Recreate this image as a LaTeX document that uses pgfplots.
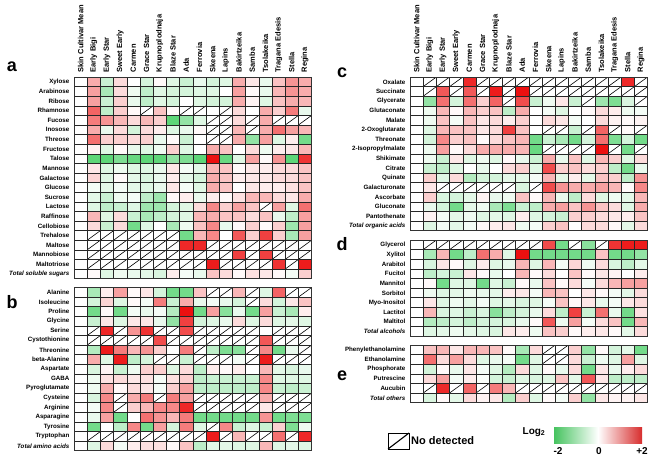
\documentclass[border=0pt]{standalone}
\usepackage{fontspec}
\setmainfont{Liberation Sans}
\usepackage{pgfplots}
\usepackage{pgfplotstable}
\pgfplotsset{compat=1.18}

\pgfplotsset{colormap={gwr}{rgb255(0)=(40,200,75) rgb255(1)=(255,255,255) rgb255(2)=(236,16,16)}}
\definecolor{cbgreen}{RGB}{70,195,95}
\definecolor{cbred}{RGB}{215,45,45}

\pgfdeclareplotmark{cell}{\pgfpathrectangle{\pgfpoint{-6.7pt}{-4.9pt}}{\pgfpoint{13.4pt}{9.8pt}}\pgfusepathqfill}
\pgfdeclareplotmark{nd}{\pgfpathmoveto{\pgfpoint{-6.6pt}{-4.8pt}}\pgfpathlineto{\pgfpoint{6.6pt}{4.8pt}}\pgfusepathqstroke}

% 9 = not detected
\pgfplotstableread{
c0 c1 c2 c3 c4 c5 c6 c7 c8 c9 c10 c11 c12 c13 c14 c15 c16 c17
0 0.7 -0.5 0.3 0 -0.4 0.05 -0.3 -0.5 -0.2 -0.4 -0.3 0.7 0.2 -0.2 0.5 0.9 0.7
0 0.8 -0.8 0.3 -0.15 -0.6 -0.3 -0.4 -0.4 -0.3 -0.3 0 0.8 0.05 -0.2 0.6 0.9 0.7
0 0.8 -0.5 0.4 -0.2 -0.6 -0.3 -0.4 0 -0.3 -0.4 -0.4 0.7 0.1 -0.3 0.5 0.7 0.6
0 1.3 -0.6 0.4 0.05 9 0.5 0.05 9 9 0 9 0.3 0 0.7 0.4 1.1 -0.2
0 1.1 0.9 0.6 0.3 0.6 0.4 -1.5 -1.0 -0.3 9 9 0.3 9 0.7 9 9 9
0 0.7 -0.2 0.3 -0.4 0.3 0.15 -0.3 -0.2 0.05 9 9 0.6 9 0.7 1.2 0.8 0.6
0 1.2 0.4 0.4 0.3 0.4 -0.2 0.05 -0.5 0 9 9 0.7 -1.0 0.8 -0.3 0.15 -1.3
0 0.1 -0.3 0.05 -0.2 -0.3 -0.15 0.4 -0.3 0 0.7 0.5 0 0.3 -0.15 0.15 0.2 0.6
0 -1.5 -1.5 -1.2 -1.4 -1.5 -1.5 -1.0 -1.2 -1.5 2 -1.4 -0.3 0.8 0.05 0.9 -1.5 1.7
0 0.2 -0.3 -0.15 -0.3 -0.3 -0.2 0.2 -0.1 -0.25 0.6 0.5 0.05 0.2 0.15 0.3 0.3 0.5
0 0.35 -0.3 0.05 -0.25 -0.35 -0.2 0.15 -0.25 -0.4 0.7 0.5 0.15 0.2 0.2 0.3 0.3 0.5
0 -0.1 -0.25 -0.1 -0.25 -0.3 -0.2 0.2 -0.1 -0.3 0.7 0.5 0 0.2 0.15 0.15 0.25 0.5
0 -0.25 -0.5 -0.15 -0.1 -0.6 -0.9 0.05 0.15 -0.2 0.15 0.05 0.25 0.6 0.6 0.3 0.2 0.7
0 -0.3 -0.6 -0.5 -0.3 -0.9 -0.9 -0.4 -0.3 0.3 1.0 0.4 0.8 0.5 9 0.8 -0.3 1.2
0 0.6 -0.3 0.3 -0.5 -0.8 -0.6 -0.4 -0.3 0.6 0.7 0.5 0.5 0.3 0.5 -0.2 -0.6 0.8
0 0.3 -0.5 0.3 -1.3 -0.3 0 -0.8 -0.15 0.5 1.0 -0.2 0.05 0.4 0.05 0.4 -0.9 0.8
0 9 9 9 9 9 9 9 -1.3 0.6 1.0 0 1.4 0.4 1.6 0.4 -0.8 0.8
0 9 9 9 9 9 9 9 1.8 1.8 9 9 9 9 9 9 9 9
0 9 9 9 9 9 9 9 9 9 9 9 1.6 9 1.6 9 9 9
0 9 9 9 9 9 9 9 9 9 1.9 9 9 9 9 1.7 9 1.9
0 0.05 -0.3 -0.15 -0.2 -0.25 -0.35 0.15 -0.1 -0.2 0.5 0.3 0.05 0.25 0.2 0.05 -0.1 0.4
}\tblA

\pgfplotstableread{
c0 c1 c2 c3 c4 c5 c6 c7 c8 c9 c10 c11 c12 c13 c14 c15 c16 c17
0 -0.8 0.15 0.8 0.05 0.2 -0.4 -1.3 -1.3 0.5 9 9 0.6 9 -0.3 1.3 9 9
0 -0.4 0.35 -0.3 0.05 -0.1 1.1 -0.5 0.7 -0.2 -0.1 -0.2 -0.4 9 0.3 -0.4 0.2 0.5
0 -1.3 0.05 -1.3 -0.1 -0.2 -0.1 -0.7 2 -1.3 0.8 -1.1 -0.2 -1.3 0.8 -0.5 -0.8 0.15
0 -0.5 0.2 -0.3 0.2 0.2 -0.2 -1.0 1.6 -0.4 -0.3 -0.2 0.3 -0.3 0.3 -0.3 -0.25 -0.3
0 9 1.8 9 0.9 1.7 9 9 1.5 9 9 9 9 9 0 9 9 9
0 9 9 9 9 9 1.5 9 9 9 9 9 9 9 1.4 9 9 9
0 -0.7 1.9 1.1 0.6 0.9 0.4 0 1.1 9 -0.6 -1.2 -1.1 9 1.0 -1.3 -0.2 9
0 0.7 -0.3 1.9 -0.6 -0.4 9 9 -0.5 9 9 9 -0.1 9 1.9 9 9 9
0 -0.35 0.1 -0.5 -0.15 0.4 0.4 -0.3 0.3 -0.6 0.15 0.05 0.15 0 0.6 -0.25 -0.35 -0.2
0 -0.15 0.25 0.3 0.2 0.25 -0.1 0.25 0.4 -0.6 -0.5 -0.5 -0.5 -0.5 1.0 -0.3 -0.3 -0.3
0 -0.15 0.7 0.05 0.3 0.2 -0.1 0.4 0.8 -0.6 -0.6 -0.6 -0.6 -0.6 1.0 -0.5 -0.6 -0.5
0 -0.35 1.0 9 0.7 1.1 9 1.1 0.8 9 9 9 9 9 0.7 9 9 9
0 -0.1 1.0 9 0.4 0.6 1.0 1.0 1.8 9 9 9 9 9 0.2 9 9 9
0 -0.2 0.8 -1.3 0 1.2 0.9 0.6 1.1 -1.3 -1.3 -1.3 -1.3 -1.3 0.9 -1.3 -1.2 -1.2
0 -1.3 0 -0.6 1.0 -1.3 0.8 -0.4 1.1 -0.3 9 1.0 -0.5 -0.3 -0.5 0.4 -1.2 -0.15
0 9 9 9 9 9 9 9 9 9 1.9 9 0.6 9 9 1.2 9 1.8
0 -0.3 0.3 -0.1 0.15 0.25 0.25 0.05 0.5 -0.6 -0.25 -0.25 -0.3 -0.3 0.6 -0.3 -0.25 -0.3
}\tblB

\pgfplotstableread{
c0 c1 c2 c3 c4 c5 c6 c7 c8 c9 c10 c11 c12 c13 c14 c15 c16 c17
0 9 9 9 1.8 9 9 9 9 9 9 9 9 9 9 9 1.8 9
0 9 1.4 9 1.4 9 1.9 9 2 9 9 9 9 9 9 9 9 9
0 -1.0 1.2 -0.4 1.2 0.4 1.3 9 1.5 -0.5 -0.15 0.2 -0.5 9 -0.9 -1.2 -0.35 9
0 -0.15 0.6 0.05 0.6 0.4 0.5 -0.6 0.7 0 -0.1 -0.3 0 0.05 0.3 0.15 -0.15 -0.1
0 -0.15 0.5 -0.1 0.5 0.2 0.3 0.15 0.4 0 0.3 0.2 -0.1 0 0.3 0.1 0.05 0.1
0 -0.3 0.6 0.5 0.5 0.2 0.3 1.6 0.5 0 9 9 -0.5 9 1.3 9 0.05 9
0 -0.4 1.0 0.4 0.5 0.05 0.3 0.5 0.6 -1.3 -0.5 -0.8 -1.3 -0.4 1.2 -1.2 -0.4 -1.3
0 -0.15 0.8 0.05 0.3 0.7 0.7 0.7 0.6 -1.4 9 9 9 9 2 9 -1.3 9
0 -0.15 -0.5 0.2 -0.3 -0.15 -0.3 0.05 -0.2 -0.5 0.7 -0.2 0.5 -0.3 0.6 0.4 -0.3 0.3
0 -0.5 -0.6 -0.3 0 -0.2 0 0.3 0.4 -0.3 1.5 0.4 0.5 0.3 0.4 -0.6 -1.3 -0.2
0 0.4 -0.3 0.3 -0.7 -0.4 -0.4 -0.25 -0.25 -0.1 0.6 -0.25 0.15 -0.25 0.5 0.4 -0.6 0.9
0 0.2 9 9 9 9 9 9 -0.35 9 1.5 0.9 0.7 0.7 0.8 0.6 0.05 1.0
0 0.4 -0.35 -0.4 -0.25 0.1 -0.2 -0.15 0.5 0.05 0.6 -0.2 -0.6 0.3 -0.3 -0.15 -0.25 0.6
0 -0.2 -0.4 -1.3 -0.25 -0.15 -0.8 -1.2 -0.5 -0.6 0.7 0.8 0.5 0.9 0.5 0.3 -0.3 0.7
0 0.1 -0.1 -0.25 -0.15 -0.3 -0.25 -0.3 0.15 -0.3 -0.4 -0.5 0.4 0.4 0.3 0.2 0.15 0.5
0 -0.3 -0.1 -0.25 -0.1 0.05 0.15 0.2 -0.15 -0.1 0.4 0.5 0 0.3 0.3 0.05 -0.25 0.3
}\tblC

\pgfplotstableread{
c0 c1 c2 c3 c4 c5 c6 c7 c8 c9 c10 c11 c12 c13 c14 c15 c16 c17
0 9 9 9 9 9 9 9 9 9 1.5 -1.3 9 -1.1 9 1.7 1.9 1.9
0 -0.8 0.6 -1.3 -0.6 1.2 0.7 -0.3 2 -1.3 -1.3 -1.3 -1.3 -1.3 0.5 -1.3 -1.3 -1.0
0 -0.35 0.2 0.05 -0.3 0.15 -0.3 -0.2 0.6 -0.3 0.6 -0.1 0.35 -0.15 0.3 -0.35 -0.6 -0.25
0 -0.6 -0.4 -0.5 0.2 0.05 -0.2 0 0.6 0.05 0.3 0 0.5 0.05 0.2 0.1 0 0.15
0 0.05 -1.3 -0.3 -0.3 -1.3 -0.3 -0.5 0.05 -0.2 0.5 0.05 0.3 -0.1 0.3 0.6 0.8 0.8
0 -0.15 -0.3 -0.25 -0.15 -0.2 -0.25 0.15 0.2 -0.1 0.6 0.5 0 0.2 0.05 -0.1 -0.25 0.3
0 0.2 -0.3 -0.15 -0.25 -0.1 -0.3 -0.25 -0.35 -0.3 -0.1 0.5 0.05 0.2 -0.2 -0.1 0.2 0.3
0 0.6 -0.35 -0.3 -0.5 -0.35 -1.1 -0.6 -0.4 -0.2 0.3 -0.6 1.6 -0.5 1.2 -0.2 -1.3 0.25
0 -0.7 -0.6 -0.4 -0.6 -0.4 -0.4 -0.35 -0.2 0.05 1.4 -0.15 0.8 -0.1 0.3 0.5 -1.3 0.6
0 -0.3 -0.25 -0.15 -0.25 -0.3 -0.35 0.2 0.15 -0.15 0.5 0.4 0.05 0.15 0.2 0.05 -0.25 0.3
}\tblD

\pgfplotstableread{
c0 c1 c2 c3 c4 c5 c6 c7 c8 c9 c10 c11 c12 c13 c14 c15 c16 c17
0 0.5 0.6 0.2 0.6 0.6 0.5 0.05 -0.8 0.3 9 9 0.4 -1.0 0.05 -0.4 -0.25 -1.3
0 1.2 0.3 0.8 0.3 -0.3 -0.2 -0.1 -1.3 -0.3 9 9 0.3 -0.5 -0.15 -0.3 0.8 -0.3
0 -0.4 0.05 -0.2 0.2 -0.1 -0.3 -0.7 0.3 -0.3 0.05 -0.2 0.3 -1.3 0.2 -0.2 0.15 0.3
0 0.3 0.8 -0.1 0.15 -0.05 -0.4 -0.5 -0.3 -0.35 -0.3 0.5 -0.25 1.4 0.2 -0.6 -0.6 -0.6
0 9 1.8 9 1.3 9 1.1 0.6 9 9 9 9 9 9 9 9 9 9
0 -0.35 0.05 -0.25 0.3 0.1 0.2 -0.7 0.4 -0.3 0.05 -0.1 0.4 -1.0 0.2 0.1 0.1 0.2
}\tblE

\newcommand{\heat}[1]{%
 \pgfplotsinvokeforeach{0,...,17}{%
  \addplot[scatter, only marks, mark=cell, point meta=explicit, restrict x to domain=-1:18]
    table[x expr={\thisrow{c##1}>5 ? -100 : ##1}, y expr=\coordindex, meta=c##1] {#1};
  \addplot[only marks, mark=nd, mark options={draw=black, line width=0.6pt}, restrict x to domain=-1:18]
    table[x expr={\thisrow{c##1}>5 ? ##1 : -100}, y expr=\coordindex] {#1};
 }}

\pgfplotsset{hm/.style={
  axis on top, clip marker paths=true,
  scale only axis, x=13.2pt, y=9.6pt, y dir=reverse,
  xmin=-0.5, xmax=17.5, ymin=-0.5,
  xtick={0,...,17},
  minor xtick={-0.5,0.5,...,17.5},
  grid=minor,
  point meta min=-2, point meta max=2, colormap name=gwr,
  major tick length=0pt, minor tick length=0pt,
  axis line style={black!80, line width=0.8pt},
  minor grid style={black!85, line width=0.55pt},
  yticklabel style={font=\bfseries\fontsize{6.2}{7}\selectfont, anchor=east, inner sep=0pt},
  yticklabel shift=4.5pt,
  xticklabel style={font=\bfseries\fontsize{7.5}{8}\selectfont, rotate=90, anchor=west, inner sep=0pt},
  xticklabel pos=upper, xticklabel shift=4.5pt,
  anchor=north west,
}}
\newcommand{\cultivars}{{Skin Cultivar Mean},{Early Bigi},{Early Star},{Sweet Early},Carmen,{Grace Star},Krupnoplodnaja,{Blaze Star},Ada,Ferrovia,Skeena,Lapins,Bakirtzeika,Samba,Tsolakeika,{Tragana Edesis},Stella,Regina}

\begin{document}
\begin{tikzpicture}
\useasboundingbox (0,0) rectangle (668pt,-465pt);

% ---- a: soluble sugars
\begin{axis}[hm, at={(74pt,-77pt)}, ymax=20.5,
  ytick={0,...,20}, minor ytick={-0.5,0.5,...,20.5},
  xticklabels/.expanded={\cultivars},
  yticklabels={Xylose,Arabinose,Ribose,Rhamnose,Fucose,Inosose,Threose,Fructose,Talose,Mannose,Galactose,Glucose,Sucrose,Lactose,Raffinose,Cellobiose,Trehalose,Maltose,Mannobiose,Maltotriose,{\itshape Total soluble sugars}}]
\heat{\tblA}
\node[rotate=-90, anchor=south, inner sep=0pt, font=\bfseries\fontsize{9.5}{10}\selectfont] at ([xshift=4.5pt]rel axis cs:1,0.5) {Soluble Sugars};
\end{axis}

% ---- b: amino acids
\begin{axis}[hm, at={(74pt,-287.5pt)}, ymax=16.5,
  ytick={0,...,16}, minor ytick={-0.5,0.5,...,16.5},
  xticklabels={},
  yticklabels={Alanine,Isoleucine,Proline,Glycine,Serine,Cystothionine,Threonine,beta-Alanine,Aspartate,GABA,Pyroglutamate,Cysteine,Arginine,Asparagine,Tyrosine,Tryptophan,{\itshape Total amino acids}}]
\heat{\tblB}
\node[rotate=-90, anchor=south, inner sep=0pt, font=\bfseries\fontsize{9.5}{10}\selectfont] at ([xshift=4.5pt]rel axis cs:1,0.5) {Amino Acids};
\end{axis}

% ---- c: organic acids
\begin{axis}[hm, at={(410pt,-77pt)}, ymax=15.5,
  ytick={0,...,15}, minor ytick={-0.5,0.5,...,15.5},
  xticklabels/.expanded={\cultivars},
  yticklabels={Oxalate,Succinate,Glycerate,Glutaconate,Malate,2-Oxoglutarate,Threonate,2-Isopropylmalate,Shikimate,Citrate,Quinate,Galacturonate,Ascorbate,Gluconate,Pantothenate,{\itshape Total organic acids}}]
\heat{\tblC}
\node[rotate=-90, anchor=south, inner sep=0pt, font=\bfseries\fontsize{9.5}{10}\selectfont] at ([xshift=4.5pt]rel axis cs:1,0.5) {Organic acids};
\end{axis}

% ---- d: alcohols
\begin{axis}[hm, at={(410pt,-240pt)}, ymax=9.5,
  ytick={0,...,9}, minor ytick={-0.5,0.5,...,9.5},
  xticklabels={},
  yticklabels={Glycerol,Xylitol,Arabitol,Fucitol,Mannitol,Sorbitol,Myo-Inositol,Lactitol,Maltitol,{\itshape Total alcohols}}]
\heat{\tblD}
\node[rotate=-90, anchor=south, inner sep=0pt, font=\bfseries\fontsize{9.5}{10}\selectfont] at ([xshift=4.5pt]rel axis cs:1,0.5) {Alcohols};
\end{axis}

% ---- e: others
\begin{axis}[hm, at={(410pt,-345pt)}, ymax=5.5,
  ytick={0,...,5}, minor ytick={-0.5,0.5,...,5.5},
  xticklabels={},
  yticklabels={Phenylethanolamine,Ethanolamine,Phosphorate,Putrescine,Aucubin,{\itshape Total others}}]
\heat{\tblE}
\node[rotate=-90, anchor=south, inner sep=0pt, font=\bfseries\fontsize{9.5}{10}\selectfont] at ([xshift=4.5pt]rel axis cs:1,0.5) {Others};
\end{axis}

% panel letters
\begin{scope}[every node/.style={font=\bfseries\fontsize{18}{18}\selectfont, inner sep=0pt}]
\node at (12pt,-67pt) {a};
\node at (12pt,-302pt) {b};
\node at (342pt,-73pt) {c};
\node at (342pt,-244pt) {d};
\node at (342pt,-376pt) {e};
\end{scope}

% legend
\draw[line width=1pt] (388pt,-433pt) rectangle (409pt,-449pt);
\draw[line width=1.1pt] (388pt,-449pt) -- (409pt,-433pt);
\node[anchor=west, inner sep=0pt, font=\bfseries\fontsize{11}{12}\selectfont] at (411pt,-441pt) {No detected};
\shade[left color=cbgreen, right color=cbred, middle color=white] (554pt,-427pt) rectangle (642pt,-443pt);
\node[font=\bfseries\fontsize{10}{11}\selectfont, inner sep=0pt] at (534pt,-432pt) {Log\textsubscript{2}};
\begin{scope}[every node/.style={font=\bfseries\fontsize{10}{11}\selectfont, inner sep=0pt}]
\node at (558pt,-451pt) {-2};
\node at (599pt,-451pt) {0};
\node at (642pt,-451pt) {+2};
\end{scope}
\end{tikzpicture}
\end{document}
